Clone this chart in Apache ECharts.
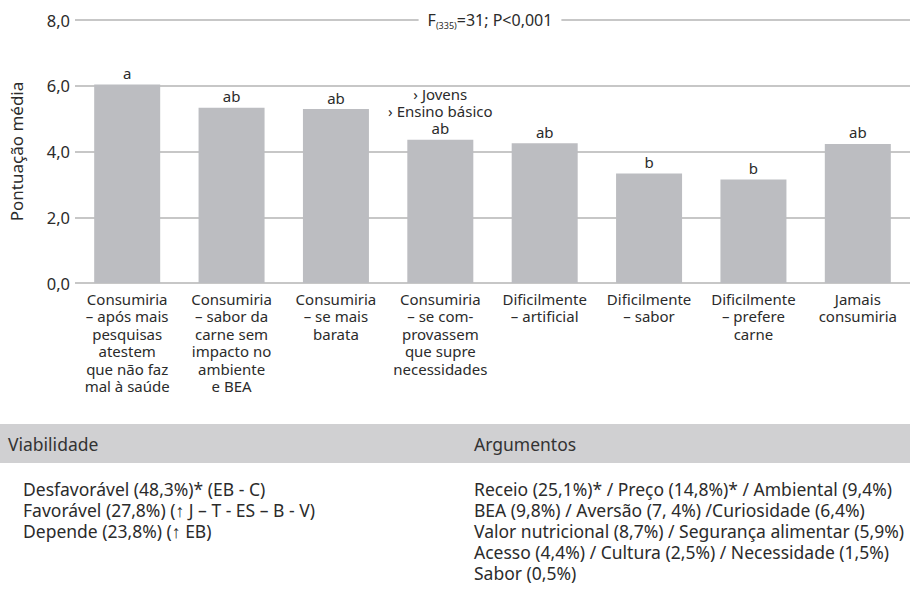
<!DOCTYPE html>
<html>
<head>
<meta charset="utf-8">
<script src="https://cdn.jsdelivr.net/npm/echarts@6/dist/echarts.min.js"></script>
<style>html,body{margin:0;padding:0;background:#fff}#c{width:910px;height:598px}</style>
</head>
<body>
<div id="c"></div>
<script>
const categories = [
  'Consumiria\n– após mais\npesquisas\natestem\nque não faz\nmal à saúde',
  'Consumiria\n– sabor da\ncarne sem\nimpacto no\nambiente\ne BEA',
  'Consumiria\n– se mais\nbarata',
  'Consumiria\n– se com-\nprovassem\nque supre\nnecessidades',
  'Dificilmente\n– artificial',
  'Dificilmente\n– sabor',
  'Dificilmente\n– prefere\ncarne',
  'Jamais\nconsumiria'
];
const meanScores = [6.04, 5.33, 5.29, 4.36, 4.25, 3.33, 3.15, 4.23];
const groupLetters = ['a', 'ab', 'ab', '› Jovens\n› Ensino básico\nab', 'ab', 'b', 'b', 'ab'];
const yTickMin = 0, yTickMax = 8, yTickStep = 2;
const yAxisTitle = 'Pontuação média';
const statSub = '(335)';
const statRest = '=31; P<0,001';
const tableHeaders = ['Viabilidade', 'Argumentos'];
const viabilidade = [
  'Desfavorável (48,3%)* (EB - C)',
  'Favorável (27,8%) (↑ J – T - ES – B - V)',
  'Depende (23,8%) (↑ EB)'
];
const argumentos = [
  'Receio (25,1%)* / Preço (14,8%)* / Ambiental (9,4%)',
  'BEA (9,8%) / Aversão (7, 4%) /Curiosidade (6,4%)',
  'Valor nutricional (8,7%) / Segurança alimentar (5,9%)',
  'Acesso (4,4%) / Cultura (2,5%) / Necessidade (1,5%)',
  'Sabor (0,5%)'
];

const FONT = 'Noto Sans';
const TXT = '#2b2b2b';
const TFS = 17.5;
const chart = echarts.init(document.getElementById('c'), null, {renderer: 'svg'});

const graphics = [
  {type: 'rect', shape: {x: 0, y: 424, width: 910, height: 39}, style: {fill: '#d0d0d2'}, silent: true},
  {type: 'text', x: 8, y: 444, style: {text: tableHeaders[0], font: TFS + 'px ' + FONT, fill: '#333', verticalAlign: 'middle'}},
  {type: 'text', x: 474, y: 444, style: {text: tableHeaders[1], font: TFS + 'px ' + FONT, fill: '#333', verticalAlign: 'middle'}},
  {type: 'text', x: 490, y: 20, z: 100, style: {
    text: '{f|F}{s|' + statSub + '}{f|' + statRest + '}',
    align: 'center', verticalAlign: 'middle',
    backgroundColor: '#fff', padding: [2, 9],
    rich: {
      f: {fontFamily: FONT, fontSize: 16, fill: TXT, color: TXT},
      s: {fontFamily: FONT, fontSize: 9, fill: TXT, color: TXT, padding: [11, 0, 0, 0]}
    }
  }}
];
viabilidade.forEach((t, i) => graphics.push({type: 'text', x: 23, y: 489 + i * 21,
  style: {text: t, font: TFS + 'px ' + FONT, fill: TXT, verticalAlign: 'middle'}}));
argumentos.forEach((t, i) => graphics.push({type: 'text', x: 474, y: 489 + i * 21,
  style: {text: t, font: TFS + 'px ' + FONT, fill: TXT, verticalAlign: 'middle'}}));

chart.setOption({
  animation: false,
  grid: {left: 66, top: 20, width: 853, height: 263, containLabel: false},
  xAxis: {
    type: 'category', data: categories,
    axisLine: {show: false}, axisTick: {show: false},
    axisLabel: {interval: 0, margin: 7, fontFamily: FONT, fontSize: 15, lineHeight: 17.5, color: TXT, verticalAlign: 'top'}
  },
  yAxis: {
    type: 'value', min: yTickMin, max: yTickMax, interval: yTickStep,
    name: yAxisTitle, nameLocation: 'middle', nameGap: 50, nameRotate: 90,
    nameTextStyle: {fontFamily: FONT, fontSize: 17, color: TXT},
    axisLine: {show: false}, axisTick: {show: false},
    axisLabel: {margin: 5, fontFamily: FONT, fontSize: 16.5, color: TXT,
      formatter: v => v.toFixed(1).replace('.', ',')},
    splitLine: {lineStyle: {color: '#b5b5b5', width: 1.5}}
  },
  series: [{
    type: 'bar', data: meanScores, barWidth: 66,
    itemStyle: {color: '#bcbdc1'},
    label: {show: true, position: 'top', distance: 3,
      formatter: p => groupLetters[p.dataIndex],
      fontFamily: FONT, fontSize: 15, lineHeight: 17, color: TXT}
  }],
  graphic: graphics
});
</script>
</body>
</html>
